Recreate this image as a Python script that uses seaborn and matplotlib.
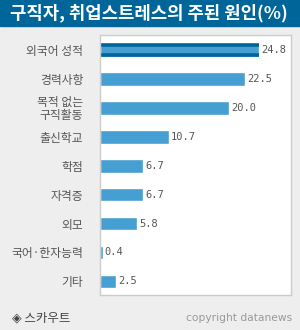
import pandas as pd
import matplotlib.pyplot as plt
import seaborn as sns

# data
causes = ['외국어 성적', '경력사항', '목적 없는\n구직활동', '출신학교', '학점',
          '자격증', '외모', '국어·한자능력', '기타']
shares = [24.8, 22.5, 20.0, 10.7, 6.7, 6.7, 5.8, 0.4, 2.5]
value_labels = ['24.8', '22.5', '20.0', '10.7', '6.7', '6.7', '5.8', '0.4', '2.5']

df = pd.DataFrame({'cause': causes, 'share': shares})

sns.set_style('white')
plt.rcParams['font.family'] = ['Noto Sans CJK KR', 'DejaVu Sans']

BAR = '#469fd2'
DARK = '#006699'
TEXT = '#555555'

fig = plt.figure(figsize=(3, 3.3), dpi=100, facecolor='#eeeeee')

# title band
fig.patches.append(plt.Rectangle((0, 1 - 26 / 330), 1, 26 / 330,
                                 transform=fig.transFigure, color=DARK, zorder=0))
fig.text(10 / 300, 1 - 13 / 330, '구직자, 취업스트레스의 주된 원인(%)',
         color='white', fontsize=12.8, fontweight='bold', va='center', ha='left')

ax = fig.add_axes([100 / 300, 35 / 330, 191 / 300, 260 / 330])
sns.barplot(data=df, y='cause', x='share', orient='h', color=BAR,
            width=0.47, saturation=1, ax=ax)

# highlight first bar with dark top/bottom strips
p = ax.patches[0]
y0, h, w = p.get_y(), p.get_height(), p.get_width()
ax.hlines([y0 + 0.05, y0 + h - 0.05], 0, w, colors=DARK, linewidth=2.6)

for i, (v, lab) in enumerate(zip(shares, value_labels)):
    ax.text(v + 0.35, i, lab, va='center', ha='left', fontsize=7.5,
            color=TEXT, family='DejaVu Sans Mono')

ax.set_xlim(0, 29.7)
ax.set_ylim(len(causes) - 0.53, -0.52)
ax.set_xticks([])
ax.set_xlabel('')
ax.set_ylabel('')
ax.tick_params(axis='y', which='major', length=0, pad=12, labelsize=8.5, labelcolor=TEXT)
ax.set_yticks([i + 0.5 for i in range(len(causes) - 1)], minor=True)
ax.tick_params(axis='y', which='minor', length=4, width=1, color='#888888')
for t in ax.get_yticklabels():
    t.set_linespacing(1.0)
for s in ax.spines.values():
    s.set_color('#cccccc')
    s.set_linewidth(1)
ax.set_facecolor('white')

fig.text(12 / 300, 1 - 318 / 330, '◈ 스카우트', color='#444444', fontsize=9,
         va='center', ha='left')
fig.text(292 / 300, 1 - 318 / 330, 'copyright datanews', color='#999999',
         fontsize=7.7, va='center', ha='right', family='DejaVu Sans')

fig.savefig('out.png', dpi=100, facecolor=fig.get_facecolor())
